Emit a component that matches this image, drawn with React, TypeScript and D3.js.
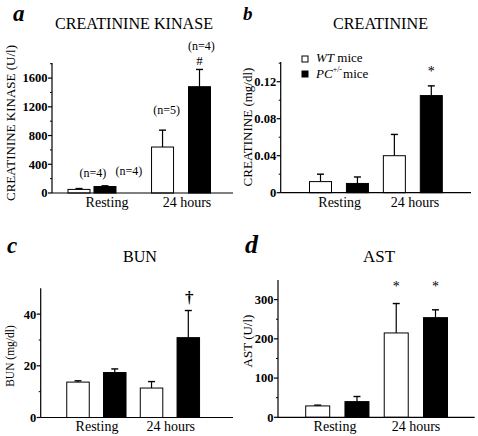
import React from "react";
import * as d3 from "d3";

// Bar order: [Resting WT, Resting PC+/-, 24 hours WT, 24 hours PC+/-]
const groups = ["Resting", "24 hours"];
const barFill = ["white", "black", "white", "black"];

const ckMean = [50, 90, 640, 1480];
const ckSem = [12, 10, 235, 240];
const ckTicks = [0, 400, 800, 1200, 1600];
const ckNotes = ["(n=4)", "(n=4)", "(n=5)", "(n=4)"];

const crMean = [0.012, 0.01, 0.04, 0.105];
const crSem = [0.008, 0.007, 0.023, 0.0105];
const crTicks = [0, 0.04, 0.08, 0.12];

const bunMean = [13.7, 17.4, 11.4, 30.9];
const bunSem = [0.5, 1.4, 2.5, 10.5];
const bunTicks = [0, 20, 40];

const astMean = [29, 40, 215, 254];
const astSem = [2, 13, 75, 20];
const astTicks = [0, 100, 200, 300];

const FONT = "Liberation Serif, Times New Roman, Times, serif";

type Note = { i: number; text: string; dx: number; yv: number; size: number; weight?: string };

const panels = [
  {
    letter: "a", title: "CREATININE KINASE", ylabel: "CREATININE KINASE (U/l)",
    mean: ckMean, sem: ckSem, ticks: ckTicks, ymax: 1810,
    notes: [
      { i: 0, text: ckNotes[0], dx: 14, yv: 223, size: 12 },
      { i: 1, text: ckNotes[1], dx: 24, yv: 251, size: 12 },
      { i: 2, text: ckNotes[2], dx: 4, yv: 1101, size: 12 },
      { i: 3, text: ckNotes[3], dx: 2, yv: 1986, size: 12 },
      { i: 3, text: "#", dx: 0, yv: 1780, size: 13 },
    ] as Note[],
    L: { x0: 52, x1: 233, yTop: 63, yBot: 193, slots: [0, 0.647, 2.08, 3], c0: 79, c3: 199.5, barW: 22,
      titleX: 134, titleY: 29, titleW: 158, letterX: 13, letterY: 21, letterSize: 23,
      ylabX: 15, ylabY: 123, ylabSize: 13, xlabX: [107, 187], xlabY: 207 },
    legend: false,
  },
  {
    letter: "b", title: "CREATININE", ylabel: "CREATININE (mg/dl)",
    mean: crMean, sem: crSem, ticks: crTicks, ymax: 0.1413,
    notes: [{ i: 3, text: "*", dx: 0, yv: 0.126, size: 14 }] as Note[],
    L: { x0: 280.7, x1: 471, yTop: 62, yBot: 192.7, slots: [0, 1, 2, 3], c0: 320.5, c3: 431.3, barW: 22,
      titleX: 380.5, titleY: 28.5, titleW: 95, letterX: 243, letterY: 20, letterSize: 19,
      ylabX: 252, ylabY: 127, ylabSize: 13, xlabX: [339.7, 415], xlabY: 207 },
    legend: true,
  },
  {
    letter: "c", title: "BUN", ylabel: "BUN (mg/dl)",
    mean: bunMean, sem: bunSem, ticks: bunTicks, ymax: 50,
    notes: [{ i: 3, text: "\u2020", dx: 1, yv: 44.4, size: 17, weight: "bold" }] as Note[],
    L: { x0: 40.7, x1: 233, yTop: 288.3, yBot: 417.5, slots: [0, 1, 2, 3], c0: 78, c3: 188.3, barW: 22.5,
      titleX: 140, titleY: 261.5, titleW: 34, letterX: 7, letterY: 253, letterSize: 23,
      ylabX: 14, ylabY: 356, ylabSize: 11.5, xlabX: [97, 170.7], xlabY: 431 },
    legend: false,
  },
  {
    letter: "d", title: "AST", ylabel: "AST (U/l)",
    mean: astMean, sem: astSem, ticks: astTicks, ymax: 350,
    notes: [
      { i: 2, text: "*", dx: 0, yv: 322, size: 14 },
      { i: 3, text: "*", dx: 0, yv: 322, size: 14 },
    ] as Note[],
    L: { x0: 278, x1: 474.7, yTop: 280, yBot: 417.3, slots: [0, 1, 2, 3], c0: 317.7, c3: 435.5, barW: 24,
      titleX: 379, titleY: 261.5, titleW: 32, letterX: 245, letterY: 253, letterSize: 26,
      ylabX: 252, ylabY: 341, ylabSize: 13, xlabX: [335, 416], xlabY: 431 },
    legend: false,
  },
];

function Panel({ p }: { p: (typeof panels)[number] }) {
  const L = p.L;
  const y = d3.scaleLinear().domain([0, p.ymax]).range([L.yBot, L.yTop]);
  const x = d3.scaleLinear().domain([0, 3]).range([L.c0, L.c3]);
  const step = p.ticks[1] - p.ticks[0];
  const minor = d3.range(step / 2, p.ymax, step);
  const fmt = (v: number) => (v === 0 ? "0" : d3.format("~g")(v));
  return (
    <g>
      <text x={L.letterX} y={L.letterY} fontSize={L.letterSize} fontStyle="italic" fontWeight="bold">{p.letter}</text>
      <text x={L.titleX - L.titleW / 2} y={L.titleY} fontSize={17.5} textLength={L.titleW} lengthAdjust="spacingAndGlyphs">{p.title}</text>
      <text transform={`translate(${L.ylabX},${L.ylabY}) rotate(-90)`} fontSize={L.ylabSize} textAnchor="middle">{p.ylabel}</text>
      {p.mean.map((m, i) => {
        const cx = x(L.slots[i]);
        return (
          <g key={i}>
            <line x1={cx} x2={cx} y1={y(m)} y2={y(m + p.sem[i])} stroke="black" strokeWidth={1.2} />
            <line x1={cx - 3.5} x2={cx + 3.5} y1={y(m + p.sem[i])} y2={y(m + p.sem[i])} stroke="black" strokeWidth={1.4} />
            <rect x={cx - L.barW / 2} y={y(m)} width={L.barW} height={y(0) - y(m)} fill={barFill[i]} stroke="black" strokeWidth={1} />
          </g>
        );
      })}
      <line x1={L.x0} x2={L.x0} y1={L.yTop} y2={L.yBot} stroke="black" strokeWidth={1.2} />
      <line x1={L.x0} x2={L.x1} y1={L.yBot} y2={L.yBot} stroke="black" strokeWidth={1.2} />
      {p.ticks.map((t) => (
        <g key={t}>
          <line x1={L.x0 - 4} x2={L.x0} y1={y(t)} y2={y(t)} stroke="black" strokeWidth={1.2} />
          <text x={L.x0 - 4.5} y={y(t)} dy="0.35em" textAnchor="end" fontSize={12.5} fontWeight="bold">{fmt(t)}</text>
        </g>
      ))}
      {minor.map((t) => (
        <line key={"m" + t} x1={L.x0 - 2} x2={L.x0} y1={y(t)} y2={y(t)} stroke="black" strokeWidth={1} />
      ))}
      {groups.map((g, i) => (
        <text key={g} x={L.xlabX[i]} y={L.xlabY} fontSize={14} textAnchor="middle">{g}</text>
      ))}
      {p.notes.map((n, k) => (
        <text key={k} x={x(L.slots[n.i]) + n.dx} y={y(n.yv)} fontSize={n.size} fontWeight={n.weight || "normal"} textAnchor="middle">{n.text}</text>
      ))}
      {p.legend && (
        <g fontSize={13}>
          <rect x={302} y={56} width={6} height={6} fill="white" stroke="black" strokeWidth={1} />
          <text x={316} y={62}><tspan fontStyle="italic">WT</tspan> mice</text>
          <rect x={302} y={71} width={6} height={6} fill="black" stroke="black" strokeWidth={1} />
          <text x={316} y={78}>
            <tspan fontStyle="italic">PC</tspan>
            <tspan fontSize={8} dy={-6}>+/-</tspan>
            <tspan dy={6} dx={1}>mice</tspan>
          </text>
        </g>
      )}
    </g>
  );
}

export default function App() {
  return (
    <svg width={478} height={436} fontFamily={FONT} style={{ position: "absolute", left: 0, top: 0, background: "white", fontFamily: FONT }}>
      <rect x={0} y={0} width={478} height={436} fill="white" />
      {panels.map((p) => (
        <Panel key={p.letter} p={p} />
      ))}
    </svg>
  );
}
